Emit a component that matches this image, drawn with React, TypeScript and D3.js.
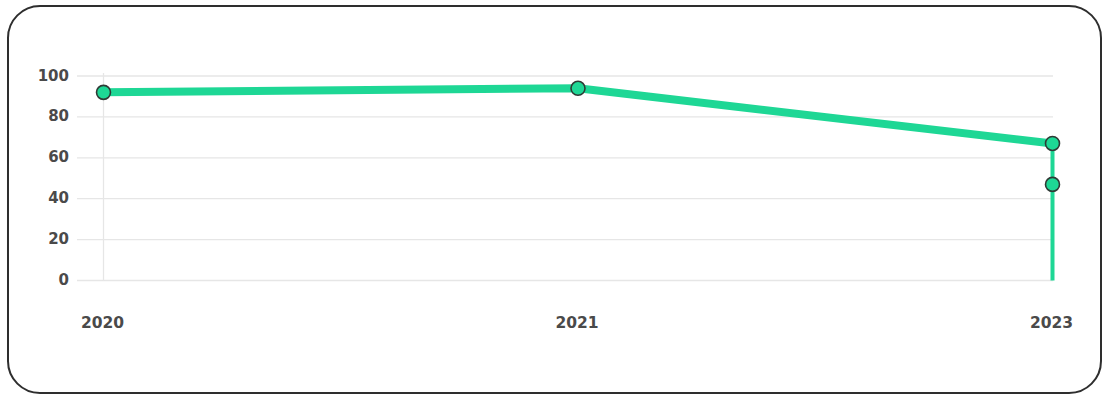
import React from "react";
import * as d3 from "d3";

const categories = ["2020", "2021", "2023"];
const pointYears = ["2020", "2021", "2023", "2023", "2023"];
const pointValues = [92, 94, 67, 47, 0];
const yTicks = [0, 20, 40, 60, 80, 100];

const W = 1109;
const H = 395;
const GREEN = "#1ed795";

export default function App() {
  const x = d3.scalePoint<string>().domain(categories).range([103.5, 1052.5]);
  const y = d3.scaleLinear().domain([0, 100]).range([280.5, 76]);

  const pts = pointYears.map((c, i) => [x(c) as number, y(pointValues[i])] as [number, number]);
  const line = d3.line();
  const thick = line(pts.slice(0, 3)) as string;
  const thin = line(pts.slice(2)) as string;

  return (
    <svg
      width={W}
      height={H}
      style={{ position: "absolute", left: 0, top: 0, display: "block", background: "#fff" }}
      fontFamily="'DejaVu Sans', sans-serif"
    >
      <rect x={8} y={6} width={1093} height={387} rx={32} ry={32} fill="#fff" stroke="#2e2e2e" strokeWidth={2} />
      {yTicks.map((t) => (
        <g key={t}>
          <line x1={77} x2={1053} y1={y(t)} y2={y(t)} stroke="#e6e6e6" strokeWidth={1.3} />
          <text x={69} y={y(t)} dy="0.3em" textAnchor="end" fontSize={15} fontWeight={700} fill="#4a4a4a">
            {t}
          </text>
        </g>
      ))}
      <line x1={x("2020")} x2={x("2020")} y1={73} y2={y(0)} stroke="#e6e6e6" strokeWidth={1.3} />
      {categories.map((c) => (
        <text key={c} x={x(c) - 1} y={328} textAnchor="middle" fontSize={15.5} fontWeight={700} fill="#4a4a4a">
          {c}
        </text>
      ))}
      <path d={thin} fill="none" stroke={GREEN} strokeWidth={4} />
      <path d={thick} fill="none" stroke={GREEN} strokeWidth={8} strokeLinejoin="round" />
      {pts.slice(0, 4).map((p, i) => (
        <circle key={i} cx={p[0]} cy={p[1]} r={7} fill={GREEN} stroke="#2f3a35" strokeWidth={1.6} />
      ))}
    </svg>
  );
}
